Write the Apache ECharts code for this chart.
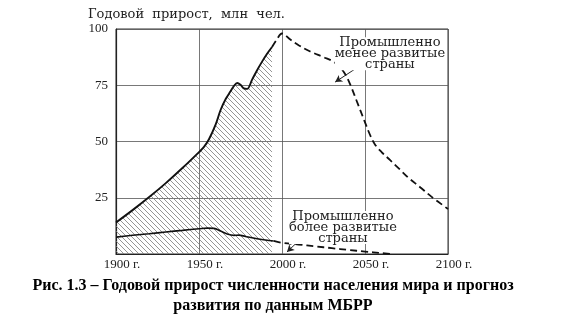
<!DOCTYPE html>
<html>
<head>
<meta charset="utf-8">
<script src="https://cdn.jsdelivr.net/npm/echarts@6/dist/echarts.min.js"></script>
<style>
html,body{margin:0;padding:0;background:#fff;}
#c{width:568px;height:325px;}
</style>
</head>
<body>
<div id="c"></div>
<script>
// ---- data ----
var yAxisTitle = 'Годовой  прирост,  млн  чел.';
var caption = 'Рис. 1.3 – Годовой прирост численности населения мира и прогноз\nразвития по данным МБРР';
var xTicks = [1900, 1950, 2000, 2050, 2100];
var yTicks = [0, 25, 50, 75, 100];
var labelLess = 'Промышленно\nменее развитые\nстраны';
var labelMore = 'Промышленно\nболее развитые\nстраны';

// world total annual growth (actual, hatched)
var totalActual = [[1900,14],[1910,19.5],[1920,25.3],[1930,31.5],[1940,38.2],[1950,45.3],[1953,47.6],[1956,51],[1960,57.5],[1963,64],[1966,68.8],[1969,72.3],[1971,74.6],[1973,76],[1975,75.2],[1977,73.6],[1979,73.4],[1982,77.5],[1985,81.7],[1988,85.5],[1991,89],[1994,92]];
// projection
var totalForecast = [[1994,92],[1997,95.5],[2000,98],[2005,95.3],[2010,92.8],[2017,90],[2025,87.5],[2031,85.5],[2035,83],[2038,80],[2041,75.5],[2045,68],[2050,58.5],[2053,53],[2056,48.7],[2060,45.3],[2065,41.8],[2070,38.3],[2076,34],[2083,29.8],[2090,25.5],[2100,20]];
// developed countries
var devActual = [[1900,7.5],[1910,8.3],[1920,9],[1930,9.8],[1940,10.5],[1950,11.2],[1955,11.5],[1959,11.4],[1963,10.2],[1967,8.9],[1971,8.3],[1974,8.4],[1978,7.8],[1985,6.8],[1990,6.2],[1995,5.8]];
var devForecast = [[1995,5.8],[2000,5.0],[2010,4.2],[2020,3.4],[2030,2.6],[2040,1.8],[2050,1.1],[2060,0.4],[2065,0.1]];

// annotation anchors (data space)
var lessLabelAt = [2065, 89.0];
var moreLabelAt = [2036.7, 11.8];
var lessPointer = [[2045, 82.7], [2032, 76.4]];
var morePointer = [[2012.6, 7.6], [2003, 0.9]];

// ---- hatch pattern ----
function hatch() {
  var s = 5, cv = document.createElement('canvas');
  cv.width = s; cv.height = s;
  var g = cv.getContext('2d');
  g.strokeStyle = '#7a7a7a'; g.lineWidth = 0.8;
  g.beginPath();
  g.moveTo(0,0); g.lineTo(s,s);
  g.moveTo(-1,s-1); g.lineTo(1,s+1);
  g.moveTo(s-1,-1); g.lineTo(s+1,1);
  g.stroke();
  return cv;
}

var serif = 'Liberation Serif';
var chart = echarts.init(document.getElementById('c'), null, {renderer:'canvas'});
var dash = {type:[7,4], width:1.8, color:'#111'};

chart.setOption({
  animation:false,
  backgroundColor:'#fff',
  grid:{left:116, right:120, top:29, bottom:71, show:true, borderColor:'#333', borderWidth:1},
  xAxis:{
    type:'value', min:xTicks[0], max:xTicks[xTicks.length-1], interval:50,
    axisLine:{show:true, lineStyle:{color:'#222', width:1.2}},
    axisTick:{show:false},
    splitLine:{show:true, lineStyle:{color:'#555', width:0.8}},
    axisLabel:{color:'#222', fontFamily:serif, fontSize:13, margin:4, padding:[0,0,0,12],
      formatter:function(v){return v + ' г.';}}
  },
  yAxis:{
    type:'value', min:yTicks[0], max:yTicks[yTicks.length-1], interval:25,
    axisLine:{show:true, lineStyle:{color:'#222', width:1.2}},
    axisTick:{show:false},
    splitLine:{show:true, lineStyle:{color:'#555', width:0.8}},
    axisLabel:{color:'#222', fontFamily:serif, fontSize:13, margin:8, showMinLabel:false}
  },
  graphic:[
    {type:'text', left:88, top:8, style:{text:yAxisTitle, font:'13px "DejaVu Serif"', fill:'#222'}},
    {type:'text', x:273, y:276, style:{text:caption, font:'bold 16px "Liberation Serif"', fill:'#000', textAlign:'center', lineHeight:20}}
  ],
  series:[
    {type:'line', data:totalActual, smooth:0.35, showSymbol:false, z:3,
      lineStyle:{color:'#111', width:1.9},
      areaStyle:{color:{image:hatch(), repeat:'repeat'}, opacity:1}},
    {type:'line', data:totalForecast, smooth:0.35, showSymbol:false, z:3, lineStyle:dash,
      markPoint:{symbol:'rect', symbolSize:0, silent:true,
        label:{show:true, position:'inside', formatter:labelLess, fontFamily:'DejaVu Serif', fontSize:13, lineHeight:11, color:'#222', align:'center', backgroundColor:'#fff'},
        data:[{coord:lessLabelAt}]},
      markLine:{silent:true, symbol:['none','arrow'], symbolSize:[6,7], label:{show:false},
        lineStyle:{color:'#222', width:1, type:'solid'},
        data:[[{coord:lessPointer[0]},{coord:lessPointer[1]}]]}},
    {type:'line', data:devActual, smooth:0.35, showSymbol:false, z:4, lineStyle:{color:'#111', width:1.6}},
    {type:'line', data:devForecast, smooth:0.35, showSymbol:false, z:4, lineStyle:dash,
      markPoint:{symbol:'rect', symbolSize:0, silent:true,
        label:{show:true, position:'inside', formatter:labelMore, fontFamily:'DejaVu Serif', fontSize:13, lineHeight:11, color:'#222', align:'center', backgroundColor:'#fff'},
        data:[{coord:moreLabelAt}]},
      markLine:{silent:true, symbol:['none','arrow'], symbolSize:[6,7], label:{show:false},
        lineStyle:{color:'#222', width:1, type:'solid'},
        data:[[{coord:morePointer[0]},{coord:morePointer[1]}]]}}
  ]
});
</script>
</body>
</html>
